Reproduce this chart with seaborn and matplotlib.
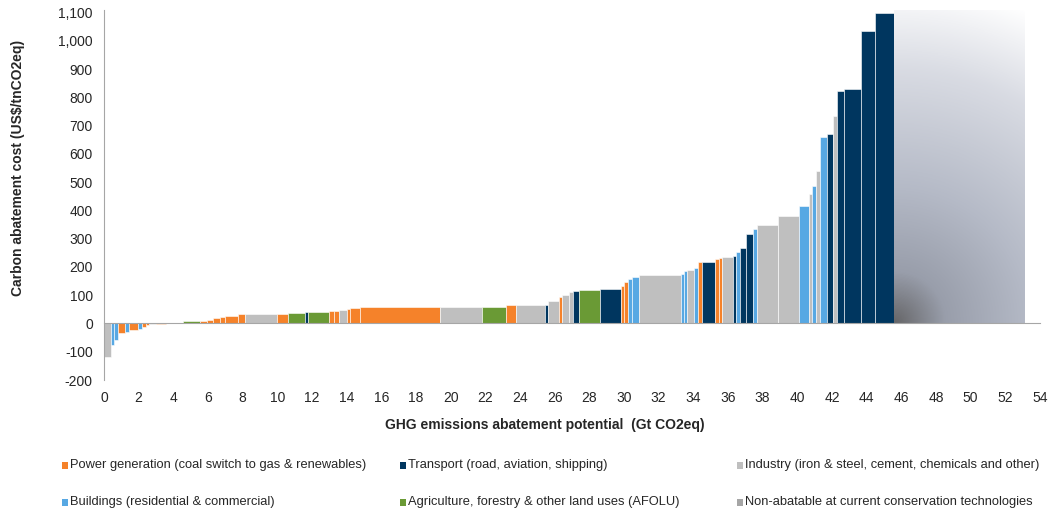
import numpy as np
import pandas as pd
import matplotlib.pyplot as plt
import seaborn as sns
from matplotlib.colors import LinearSegmentedColormap
from matplotlib.ticker import FuncFormatter, MultipleLocator
from matplotlib.patches import Rectangle

# abatement measures, left to right (sector code, width in Gt, cost in US$/t)
sectors = ['I', 'B', 'B', 'P', 'B', 'P', 'B', 'P', 'P', 'I',
           'P', 'I', 'P', 'A', 'P', 'P', 'P', 'P', 'P', 'P',
           'I', 'P', 'A', 'T', 'A', 'P', 'P', 'I', 'P', 'P',
           'P', 'I', 'A', 'P', 'I', 'T', 'I', 'P', 'I', 'I',
           'T', 'A', 'T', 'P', 'P', 'B', 'B', 'I', 'B', 'B',
           'I', 'B', 'P', 'T', 'P', 'P', 'I', 'T', 'B', 'T',
           'T', 'B', 'I', 'I', 'B', 'I', 'B', 'I', 'B', 'T',
           'I', 'T', 'T', 'T', 'T']
widths = [0.40, 0.20, 0.20, 0.42, 0.20, 0.57, 0.19, 0.24, 0.18, 0.40,
          0.60, 0.60, 0.34, 1.02, 0.37, 0.37, 0.39, 0.29, 0.77, 0.39,
          1.86, 0.60, 0.99, 0.18, 1.21, 0.29, 0.29, 0.44, 0.20, 0.60,
          4.60, 2.40, 1.40, 0.60, 1.65, 0.19, 0.60, 0.18, 0.43, 0.19,
          0.39, 1.19, 1.21, 0.19, 0.23, 0.23, 0.39, 2.40, 0.19, 0.20,
          0.38, 0.22, 0.23, 0.77, 0.23, 0.19, 0.60, 0.19, 0.23, 0.35,
          0.42, 0.23, 1.21, 1.17, 0.60, 0.19, 0.21, 0.22, 0.40, 0.38,
          0.20, 0.42, 0.98, 0.81, 1.09]
costs = [-118, -75, -58, -34, -31, -22, -19, -13, -7, -3,
         -1, 1, 3, 8, 10, 13, 18, 22, 28, 32,
         34, 35, 38, 40, 42, 43, 44, 46, 50, 54,
         57, 58, 58, 64, 65, 67, 78, 95, 100, 112,
         115, 120, 123, 134, 148, 158, 164, 170, 176, 184,
         190, 196, 216, 219, 228, 231, 235, 237, 252, 268,
         318, 335, 350, 379, 414, 459, 486, 541, 661, 671,
         733, 823, 828, 1036, 1100]
nonabatable_width = 7.5

sector_names = {
    'P': 'Power generation (coal switch to gas & renewables)',
    'T': 'Transport (road, aviation, shipping)',
    'I': 'Industry (iron & steel, cement, chemicals and other)',
    'B': 'Buildings (residential & commercial)',
    'A': 'Agriculture, forestry & other land uses (AFOLU)',
    'N': 'Non-abatable at current conservation technologies',
}
pal = dict(zip(['P', 'T', 'I', 'B', 'A', 'N'],
               sns.color_palette(['#F5822A', '#00365F', '#BFBFBF',
                                  '#57A8E3', '#6A9A35', '#A6A6A6'])))

df = pd.DataFrame({'sector': sectors, 'width': widths, 'cost': costs})
df['left'] = df['width'].cumsum() - df['width']

sns.set_style('white')
plt.rcParams['font.family'] = ['Liberation Sans', 'DejaVu Sans']

fig, ax = plt.subplots(figsize=(10.49, 5.12), dpi=100)
fig.subplots_adjust(left=0.0991, right=0.9914, bottom=0.2578, top=0.980)

ax.bar(df['left'], df['cost'], width=df['width'], align='edge',
       color=[pal[s] for s in df['sector']], edgecolor='white', linewidth=0.4, zorder=2)

# non-abatable block with a shaded fill
ymax = 1108
na_left = df['width'].sum()
na_bar = ax.bar(na_left, ymax, width=nonabatable_width, align='edge',
                color='none', linewidth=0, zorder=2)
grad_cmap = LinearSegmentedColormap.from_list('na', [
    (0.0, (0.40, 0.40, 0.41)), (0.15, (0.60, 0.62, 0.67)),
    (0.4, (0.71, 0.73, 0.78)), (0.75, (0.85, 0.86, 0.89)), (1.0, (1, 1, 1))])
U, V = np.meshgrid(np.linspace(0, 1, 200), np.linspace(0, 1, 300))
D = np.sqrt((U * 130) ** 2 + (V * 313) ** 2) / np.sqrt(130 ** 2 + 313 ** 2)
img = ax.imshow(D, cmap=grad_cmap, origin='lower', aspect='auto', zorder=2,
                extent=[na_left, na_left + nonabatable_width, 0, ymax])
img.set_clip_path(na_bar[0])

ax.set_xlim(0, 54)
ax.set_ylim(-200, ymax)

axis_col = '#A6A6A6'
ax.spines['top'].set_visible(False)
ax.spines['right'].set_visible(False)
ax.spines['left'].set_color(axis_col)
ax.spines['bottom'].set_color(axis_col)
ax.spines['bottom'].set_position(('data', 0))
ax.spines['bottom'].set_zorder(3)

ax.xaxis.set_major_locator(MultipleLocator(0.5))
ax.tick_params(axis='x', labelbottom=False, length=4, width=0.8, color=axis_col, direction='out')
ax.yaxis.set_major_locator(MultipleLocator(100))
ax.yaxis.set_major_formatter(FuncFormatter(lambda v, p: f'{v:,.0f}'))
ax.tick_params(axis='y', length=4, width=0.8, color=axis_col, direction='out',
               labelsize=10, labelcolor='#262626', pad=4)

sec = ax.secondary_xaxis('bottom')
sec.set_xticks(range(0, 55, 2))
sec.tick_params(length=0, pad=8, labelsize=10, labelcolor='#262626')
sec.spines['bottom'].set_visible(False)

fig.text(545 / 1049, 1 - 425 / 512, 'GHG emissions abatement potential  (Gt CO2eq)',
         ha='center', va='center', fontsize=10, fontweight='bold')
fig.text(18 / 1049, 1 - 168 / 512, 'Carbon abatement cost (US$/tnCO2eq)',
         ha='center', va='center', rotation=90, fontsize=10, fontweight='bold')

# legend laid out in two rows of three
leg_order = [['P', 'T', 'I'], ['B', 'A', 'N']]
col_x = [62, 400, 737]
row_y = [465, 502]
for r, row in enumerate(leg_order):
    for c, key in enumerate(row):
        x0 = col_x[c] / 1049
        y0 = 1 - row_y[r] / 512
        fig.add_artist(Rectangle((x0, y0 - 3.5 / 512), 6 / 1049, 7 / 512,
                                 transform=fig.transFigure, color=pal[key], lw=0))
        fig.text(x0 + 8 / 1049, y0, sector_names[key], ha='left', va='center',
                 fontsize=9.3, color='#262626')

plt.savefig('out.png', dpi=100)
